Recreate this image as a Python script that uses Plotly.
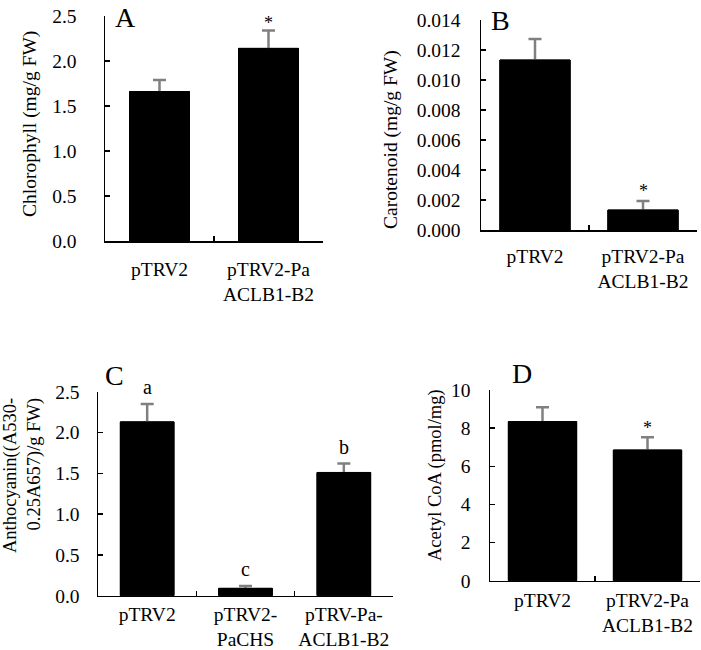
import plotly.graph_objects as go

# ---------------- data ----------------
cat_A = ["pTRV2", "pTRV2-Pa<br>ACLB1-B2"]
chl_val = [1.66, 2.14]
chl_err = [0.13, 0.20]
sig_A = ["", "*"]

cat_B = ["pTRV2", "pTRV2-Pa<br>ACLB1-B2"]
car_val = [0.01133, 0.00133]
car_err = [0.0014, 0.0006]
sig_B = ["", "*"]

cat_C = ["pTRV2", "pTRV2-<br>PaCHS", "pTRV-Pa-<br>ACLB1-B2"]
ant_val = [2.13, 0.09, 1.51]
ant_err = [0.22, 0.03, 0.11]
sig_C = ["a", "c", "b"]

cat_D = ["pTRV2", "pTRV2-Pa<br>ACLB1-B2"]
aco_val = [8.34, 6.85]
aco_err = [0.75, 0.67]
sig_D = ["", "*"]

W, H = 701, 650
FONT = "Liberation Serif, Times New Roman, serif"


def px_x(px):
    return px / W


def px_y(py):
    return 1 - py / H


fig = go.Figure()

panels = [
    dict(c=cat_A, v=chl_val, e=chl_err, s=sig_A, ax="", w=0.55, box=(105, 323, 16, 241),
         yr=[0, 2.5], dt=0.5, fmt=".1f", xs=10, ys=23, sf=18, sh=7),
    dict(c=cat_B, v=car_val, e=car_err, s=sig_B, ax="2", w=0.65, box=(481, 697, 20, 230),
         yr=[0, 0.014], dt=0.002, fmt=".3f", xs=8, ys=15, sf=18, sh=10),
    dict(c=cat_C, v=ant_val, e=ant_err, s=sig_C, ax="3", w=0.545, box=(98, 393, 391.7, 595.7),
         yr=[0, 2.5], dt=0.5, fmt=".1f", xs=0, ys=13, sf=20, sh=17),
    dict(c=cat_D, v=aco_val, e=aco_err, s=sig_D, ax="4", w=0.65, box=(490, 700, 390, 580.7),
         yr=[0, 10], dt=2, fmt="d", xs=1, ys=14, sf=18, sh=9),
]

annotations = []
for p in panels:
    xa = "x" + p["ax"]
    ya = "y" + p["ax"]
    # bars carrying the (upper) error bars
    fig.add_trace(go.Bar(
        x=p["c"], y=p["v"], width=p["w"],
        marker=dict(color="black", line=dict(color="black", width=1)),
        error_y=dict(type="data", array=p["e"], color="#808080",
                     thickness=2.5, width=6.5),
        xaxis=xa, yaxis=ya, showlegend=False, hoverinfo="skip",
    ))
    # same bars drawn again on top, hiding the lower half of the error bars
    fig.add_trace(go.Bar(
        x=p["c"], y=p["v"], width=p["w"],
        marker=dict(color="black", line=dict(color="black", width=1)),
        xaxis=xa, yaxis=ya, showlegend=False, hoverinfo="skip",
    ))
    x0, x1, yt, yb = p["box"]
    axis_common = dict(showline=True, linecolor="black", linewidth=1.5,
                       showgrid=False, zeroline=False, ticks="inside",
                       ticklen=5, tickwidth=1.5, tickcolor="black",
                       automargin=False,
                       tickfont=dict(family=FONT, size=19.5, color="black"))
    xkey = "xaxis" + p["ax"]
    ykey = "yaxis" + p["ax"]
    fig.update_layout(**{
        xkey: dict(domain=[px_x(x0), px_x(x1)], anchor=ya, type="category",
                   tickson="boundaries", range=[-0.5, len(p["c"]) - 0.5],
                   tickangle=0, ticklabelstandoff=p["xs"], **axis_common),
        ykey: dict(domain=[px_y(yb), px_y(yt)], anchor=xa, range=p["yr"],
                   dtick=p["dt"], tick0=0, tickformat=p["fmt"],
                   ticklabeloverflow="allow",
                   ticklabelstandoff=p["ys"], **axis_common),
    })
    for cat, v, e, s in zip(p["c"], p["v"], p["e"], p["s"]):
        if s:
            annotations.append(dict(
                x=cat, y=v + e, xref=xa, yref=ya, text=s, showarrow=False,
                yanchor="middle", yshift=p["sh"],
                font=dict(family=FONT, size=p["sf"], color="black")))

# panel letters (x centre px, y of text-box top px)
letters = [("A", 125, 0), ("B", 500, 3), ("C", 114, 358), ("D", 522, 356)]
for t, px, py in letters:
    annotations.append(dict(x=px_x(px), y=px_y(py), xref="paper", yref="paper",
                            text=t, showarrow=False, xanchor="center", yanchor="top",
                            font=dict(family=FONT, size=28, color="black")))

# y-axis titles
ytitles = [("Chlorophyll (mg/g FW)", 30, 124, 19.5),
           ("Carotenoid (mg/g FW)", 391, 140, 19.5),
           ("Anthocyanin((A530-<br>0.25A657)/g FW)", 22, 476, 18.5),
           ("Acetyl CoA (pmol/mg)", 435, 475, 18.5)]
for t, px, py, fs in ytitles:
    annotations.append(dict(x=px_x(px), y=px_y(py), xref="paper", yref="paper",
                            text=t, showarrow=False, textangle=-90, align="right",
                            xanchor="center", yanchor="middle",
                            font=dict(family=FONT, size=fs, color="black")))

fig.update_layout(width=W, height=H, margin=dict(l=0, r=0, t=0, b=0, autoexpand=False),
                  paper_bgcolor="white", plot_bgcolor="white", barmode="overlay",
                  annotations=annotations, showlegend=False, hovermode=False,
                  font=dict(family=FONT, color="black"))

fig.write_html("out.html", config={"displayModeBar": False, "staticPlot": True},
               post_script="document.body.style.margin='0';document.body.style.overflow='hidden';")
